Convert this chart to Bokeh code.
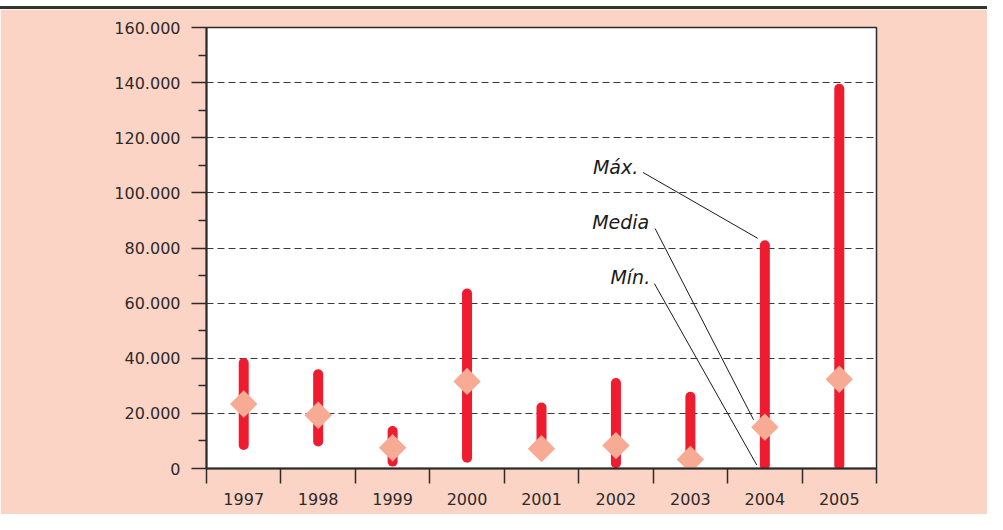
import math
from bokeh.plotting import figure
from bokeh.models import Range1d, FixedTicker, Div, ColumnDataSource
from bokeh.layouts import column
from bokeh.core.properties import value
from bokeh.embed import file_html
from bokeh.resources import INLINE

# ---- data ----
years = ["1997", "1998", "1999", "2000", "2001", "2002", "2003", "2004", "2005"]
max_vals = [38300, 34200, 13600, 63500, 22100, 31000, 26000, 81000, 137800]
min_vals = [8500, 9800, 2500, 3900, 5000, 1900, 1000, 1200, 1200]
mean_vals = [23400, 19300, 7500, 31600, 7200, 8300, 3300, 15000, 32400]
y_ticks = [0, 20000, 40000, 60000, 80000, 100000, 120000, 140000, 160000]

PINK = "#FCD4C6"
RED = "#EE1C2E"
DIAMOND = "#F7AA94"
DARK = "#2b2b2b"
FONT = "DejaVu Sans"

xs = [i + 0.5 for i in range(len(years))]
src = ColumnDataSource(dict(x=xs, lo=min_vals, hi=max_vals, mean=mean_vals))

p = figure(width=987, height=505, output_backend="svg", toolbar_location=None,
           x_range=Range1d(0, len(years)), y_range=Range1d(0, 160000),
           min_border_left=206, min_border_right=111, min_border_top=18,
           min_border_bottom=46)
p.background_fill_color = "white"
p.border_fill_color = PINK
p.outline_line_color = DARK
p.outline_line_width = 1.5

# x axis: ticks between categories (minor), labels at centers
p.xaxis.ticker = FixedTicker(ticks=xs, minor_ticks=list(range(len(years) + 1)))
p.xaxis.major_label_overrides = {x: y for x, y in zip(xs, years)}
p.xaxis.major_tick_line_color = None
p.xaxis.major_tick_out = 15
p.xaxis.major_tick_in = 0
p.xaxis.minor_tick_line_color = DARK
p.xaxis.minor_tick_line_width = 1.5
p.xaxis.minor_tick_out = 15
p.xaxis.minor_tick_in = 0
p.xaxis.major_label_standoff = 9
p.xaxis.major_label_text_font = FONT
p.xaxis.major_label_text_font_size = "16px"
p.xaxis.major_label_text_color = DARK
p.xaxis.axis_line_color = DARK
p.xaxis.axis_line_width = 2

# y axis
minor_y = [t + 10000 for t in y_ticks[:-1]]
p.yaxis.ticker = FixedTicker(ticks=y_ticks, minor_ticks=minor_y)
p.yaxis.major_label_overrides = {t: (f"{t:,}".replace(",", ".")) for t in y_ticks}
p.yaxis.major_tick_out = 15
p.yaxis.major_tick_in = 0
p.yaxis.major_tick_line_color = DARK
p.yaxis.major_tick_line_width = 1.5
p.yaxis.minor_tick_out = 8
p.yaxis.minor_tick_in = 0
p.yaxis.minor_tick_line_color = DARK
p.yaxis.minor_tick_line_width = 1.5
p.yaxis.major_label_standoff = 11
p.yaxis.major_label_text_font = FONT
p.yaxis.major_label_text_font_size = "16px"
p.yaxis.major_label_text_color = DARK
p.yaxis.axis_line_color = DARK
p.yaxis.axis_line_width = 2

p.xgrid.grid_line_color = None
p.ygrid.ticker = FixedTicker(ticks=y_ticks[1:-1])
p.ygrid.grid_line_color = "#3a3a3a"
p.ygrid.grid_line_dash = "7 4"
p.ygrid.grid_line_width = 1

# range bars and means
p.segment(x0="x", y0="lo", x1="x", y1="hi", source=src, line_color=RED,
          line_width=10, line_cap="round")
p.scatter(x="x", y="mean", source=src, marker="square", size=19.4,
          angle=math.pi / 4, fill_color=DIAMOND, line_color=None)

# annotations pointing to 2004
i4 = years.index("2004")
cx = xs[i4]
labels = ["Máx.", "Media", "Mín."]
lab_x = [cx - 1.70, cx - 1.553, cx - 1.54]
lab_y = [109300, 89500, 69400]
p.text(x=lab_x, y=lab_y, text=labels, text_align="right", text_baseline="middle",
       text_font=value(FONT), text_font_style="italic", text_font_size="19px",
       text_color="#1a1a1a")
lx0 = [cx - 1.636, cx - 1.474, cx - 1.483]
ly0 = [107400, 87050, 67070]
lx1 = [cx - 0.095, cx - 0.152, cx - 0.109]
ly1 = [max_vals[i4] + 2500, mean_vals[i4] + 2700, 1300]
p.segment(x0=lx0, y0=ly0, x1=lx1, y1=ly1, line_color="#1a1a1a", line_width=1)

gap = Div(text="", width=987, height=6, margin=0,
          styles={"background-color": "#ffffff"})
top = Div(text="", width=987, height=3, margin=0,
          styles={"background-color": "#333333"})
layout = column(gap, top, p, spacing=0)

open("out.html", "w").write(file_html(layout, INLINE))
